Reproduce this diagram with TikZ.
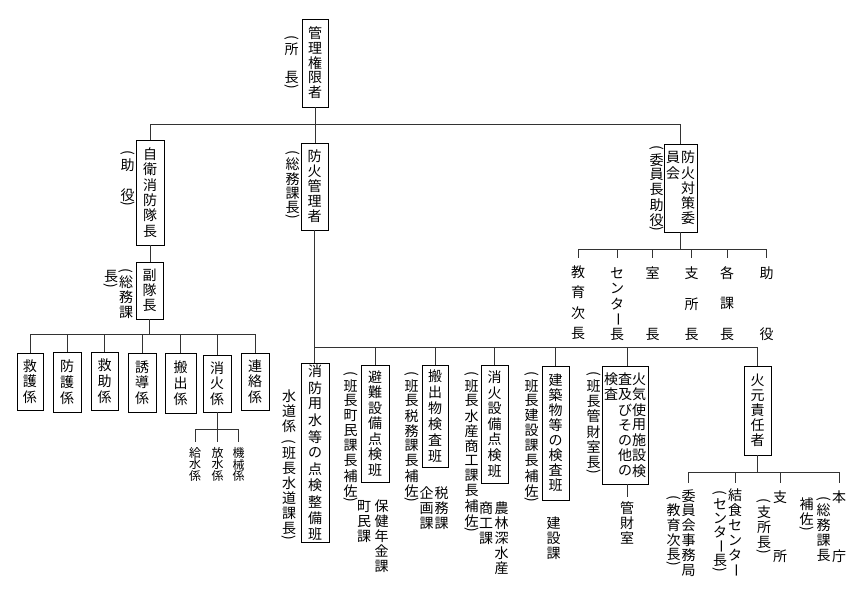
\documentclass[tikz,border=0pt]{standalone}
\usepackage{fontspec}
\setmainfont{Noto Sans CJK JP}
\ExplSyntaxOn
\dim_new:N \l_vt_pitch_dim
\cs_new_protected:Npn \vt_small:n #1
 { \vbox to 6pt {\vss \hbox to 1em {\hss #1 \hss} \vss} }
\cs_new_protected:Npn \vt_full:n #1
 { \vbox to \l_vt_pitch_dim {\vss \hbox to 1em {\hss #1 \hss} \vss} }
\cs_new_protected:Npn \vt_item:n #1
 {
  \str_case:nnF {#1}
   {
    {(}{\vt_small:n {\rotatebox[origin=c]{-90}{(}}}
    {)}{\vt_small:n {\rotatebox[origin=c]{-90}{)}}}
    {|}{\vbox to 6pt {}}
    {*}{\vt_full:n {}}
    {ー}{\vt_full:n {\rotatebox[origin=c]{-90}{ー}}}
   }
   {\vt_full:n {#1}}
 }
\NewDocumentCommand \VT { O{15} m }
 {
  \dim_set:Nn \l_vt_pitch_dim {#1pt}
  \vtop {\offinterlineskip \tl_map_function:nN {#2} \vt_item:n}
 }
\ExplSyntaxOff
\begin{document}
\begin{tikzpicture}[x=1pt,y=-1pt,
  box/.style={draw=black, line width=0.9pt, inner sep=0pt, font=\fontsize{14}{15}\selectfont},
  lbl/.style={inner sep=0pt, anchor=north, font=\fontsize{14}{15}\selectfont},
  sublbl/.style={inner sep=0pt, anchor=north, font=\fontsize{12}{12}\selectfont},
  conn/.style={draw=black!80, line width=1pt}]
\fill[white] (0,0) rectangle (864,594);
\useasboundingbox (0,0) rectangle (864,594);

% ---------- boxes ----------
\node[box, minimum width=26pt, minimum height=88pt] (top) at (315,63) {\VT[14.8]{管理権限者}};
\node[box, minimum width=27pt, minimum height=87pt] (fpm) at (314.5,186.5) {\VT[15]{防火管理者}};
\node[box, minimum width=28pt, minimum height=105pt] (jv) at (150,192.5) {\VT[15.4]{自衛消防隊長}};
\node[box, minimum width=27pt, minimum height=57pt] (vice) at (149.5,290.5) {\VT[15]{副隊長}};
\node[box, minimum width=33pt, minimum height=88pt] (ctee) at (680.5,188) {\VT[15.2]{員会}\hspace{1pt}\VT[15.2]{防火対策委}};

\node[box, minimum width=26pt, minimum height=57pt] (k1) at (30,381.5) {\VT[15.75]{救護係}};
\node[box, minimum width=28pt, minimum height=60pt] (k2) at (67,382) {\VT[15.75]{防護係}};
\node[box, minimum width=27pt, minimum height=58pt] (k3) at (104.5,381) {\VT[15.75]{救助係}};
\node[box, minimum width=28pt, minimum height=59pt] (k4) at (142,382.5) {\VT[15.75]{誘導係}};
\node[box, minimum width=31pt, minimum height=60pt] (k5) at (180.5,383) {\VT[15.75]{搬出係}};
\node[box, minimum width=28pt, minimum height=57pt] (k6) at (217,383.5) {\VT[15.75]{消火係}};
\node[box, minimum width=28pt, minimum height=57pt] (k7) at (255,381.5) {\VT[15.75]{連絡係}};

\node[box, minimum width=28pt, minimum height=178pt] (w1) at (315,453) {\VT[16.3]{消防用水等の点検整備班}};
\node[box, minimum width=28pt, minimum height=117pt] (w2) at (375,423.5) {\VT[15.6]{避難設備点検班}};
\node[box, minimum width=26pt, minimum height=102pt] (w3) at (435,416) {\VT[16]{搬出物検査班}};
\node[box, minimum width=27pt, minimum height=118pt] (w4) at (494.5,424) {\VT[15.6]{消火設備点検班}};
\node[box, minimum width=27pt, minimum height=134pt] (w5) at (555.5,433) {\VT[15]{建築物等の検査班}};
\node[box, minimum width=46pt, minimum height=118pt] (w6) at (625,425) {\VT[15.25]{検査}\VT[15.25]{査及びその他の}\VT[15.25]{火気使用施設検}};
\node[box, minimum width=27pt, minimum height=89pt] (fm) at (757.5,410.5) {\VT[15]{火元責任者}};

% ---------- labels ----------
\node[lbl] (l1) at (291.5,35.5) {\VT[14.5]{(所*長)}};
\node[lbl] (l2) at (292.5,151) {\VT[14.5]{(総務課長)}};
\node[lbl] (l3) at (127.5,151) {\VT[15]{(助*役)}};
\node[lbl] (l4) at (126,268.5) {\VT[15]{(総務課}};
\node[lbl] (l5) at (111,268.5) {\VT[15]{長)}};
\node[lbl] (l6) at (289,388.5) {\VT[15]{水道係|(班長水道課長)}};
\node[lbl] (l7) at (350.5,372) {\VT[15]{(班長町民課長補佐)}};
\node[lbl] (l8) at (364,498.5) {\VT[15]{町民課}};
\node[lbl] (l9) at (381.5,498.5) {\VT[15]{保健年金課}};
\node[lbl] (l10) at (411.5,372) {\VT[15]{(班長税務課長補佐)}};
\node[lbl] (l11) at (426.5,485.5) {\VT[15]{企画課}};
\node[lbl] (l12) at (441.5,485.5) {\VT[15]{税務課}};
\node[lbl] (l13) at (471.5,372) {\VT[15]{(班長水産商工課長補佐)}};
\node[lbl] (l14) at (486,500.5) {\VT[15]{商工課}};
\node[lbl] (l15) at (501.5,500.5) {\VT[15]{農林深水産}};
\node[lbl] (l16) at (531.5,372) {\VT[15]{(班長建設課長補佐)}};
\node[lbl] (l17) at (553.5,515.5) {\VT[15]{建設課}};
\node[lbl] (l18) at (593.5,372) {\VT[15.3]{(班長管財室長)}};
\node[lbl] (kz) at (627,500.5) {\VT[15]{管財室}};
\node[lbl] (l19) at (656.5,146) {\VT[15]{(委員長助役)}};

\node[lbl] (t1) at (578,262) {\VT[20.3]{教育次長}};
\node[lbl] (t2) at (617,265.5) {\VT[15.25]{センター長}};
\node[lbl] (t3) at (652.5,265.5) {\VT[15.25]{室***長}};
\node[lbl] (t4) at (691.5,265.5) {\VT[15.25]{支*所*長}};
\node[lbl] (t5) at (727,265.5) {\VT[15.25]{各*課*長}};
\node[lbl] (t6) at (766.5,265.5) {\VT[15.25]{助***役}};

\node[sublbl] (s1) at (195,447) {\VT[11.5]{給水係}};
\node[sublbl] (s2) at (217.5,447) {\VT[11.5]{放水係}};
\node[sublbl] (s3) at (238.5,447) {\VT[11.5]{機械係}};

\node[lbl] (h1) at (688.5,488.5) {\VT[14.8]{委員会事務局}};
\node[lbl] (h1b) at (673.5,496) {\VT[15]{(教育次長)}};
\node[lbl] (h2) at (735,487.5) {\VT[15]{結食センター}};
\node[lbl] (h2b) at (720,490.5) {\VT[14.2]{(センター長)}};
\node[lbl] (h3) at (780,490) {\VT[14.75]{支***所}};
\node[lbl] (h3b) at (764,498.5) {\VT[15]{(支所長)}};
\node[lbl] (h4) at (839,490) {\VT[14.75]{本***庁}};
\node[lbl] (h4b) at (823.5,496.5) {\VT[15]{(総務課長}};
\node[lbl] (h4c) at (806.5,496.5) {\VT[15]{補佐)}};

% ---------- connectors ----------
\coordinate (b1) at (0,124);
\coordinate (b2) at (0,334);
\coordinate (b3) at (0,429);
\coordinate (b4) at (0,347);
\coordinate (b5) at (0,249);
\coordinate (b6) at (0,258);
\coordinate (b7) at (0,472);
\coordinate (b8) at (0,483);

\draw[conn] (top.south) -- (top.south |- fpm.north);
\draw[conn] (jv.north) -- (jv.north |- b1) -- (ctee.north |- b1) -- (ctee.north);
\draw[conn] (jv.south) -- (jv.south |- vice.north);
\draw[conn] (vice.south) -- (vice.south |- b2);
\draw[conn] (k1.north |- b2) -- (k7.north |- b2);
\foreach \k in {k1,k2,k3,k4,k5,k6,k7} \draw[conn] (\k.north |- b2) -- (\k.north);
\draw[conn] (k6.south) -- (k6.south |- b3);
\draw[conn] (s1.north |- b3) -- (s3.north |- b3);
\foreach \s in {s1,s2,s3} \draw[conn] (\s.north |- b3) -- ([yshift=5pt]\s.north);

\draw[conn] (fpm.south) -- (fpm.south |- w1.north);
\draw[conn] (w1.north |- b4) -- (fm.north |- b4);
\foreach \w in {w2,w3,w4,w5,fm} \draw[conn] (\w.north |- b4) -- (\w.north);
\draw[conn] (kz.north |- b4) -- (kz.north |- w6.north);
\draw[conn] (kz.north |- w6.south) -- ([yshift=3.5pt]kz.north);

\draw[conn] (ctee.south) -- (ctee.south |- b5);
\draw[conn] (t1.north |- b5) -- (t6.north |- b5);
\foreach \t in {t1,t2,t3,t4,t5,t6} \draw[conn] (\t.north |- b5) -- (\t.north |- b6);

\draw[conn] (fm.south) -- (fm.south |- b7);
\draw[conn] (h1.north |- b7) -- (h4.north |- b7);
\foreach \h in {h1,h2,h3,h4} \draw[conn] (\h.north |- b7) -- (\h.north |- b8);
\end{tikzpicture}
\end{document}
